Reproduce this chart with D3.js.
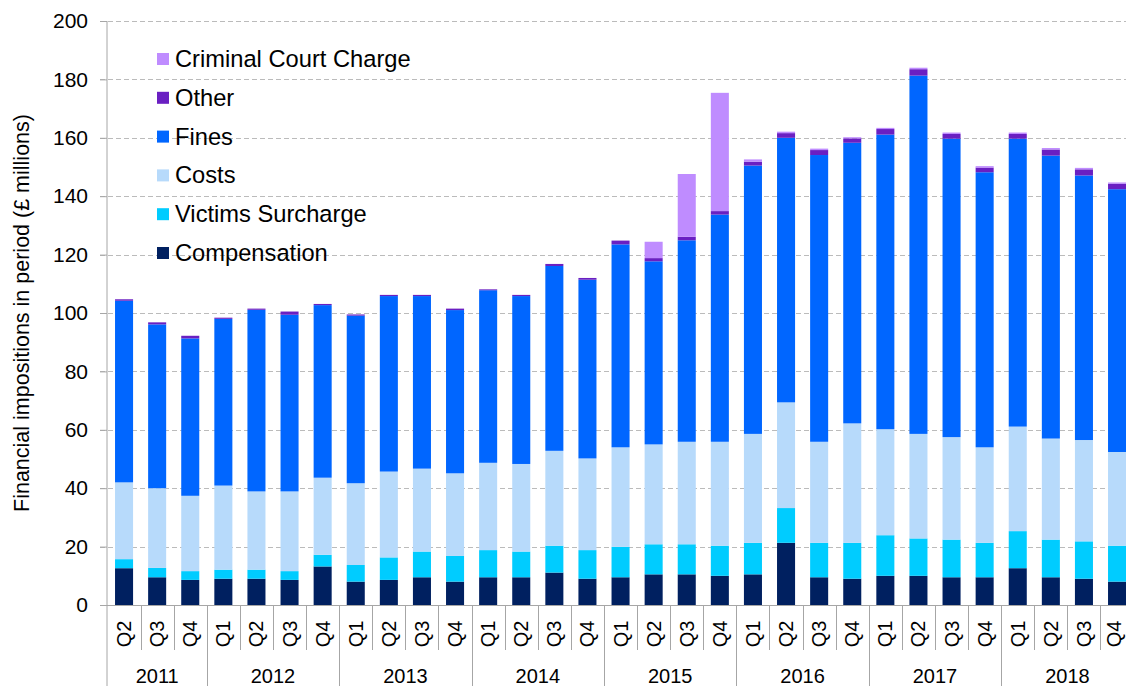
<!DOCTYPE html>
<html>
<head>
<meta charset="utf-8">
<script src="https://cdn.jsdelivr.net/npm/d3@7"></script>
<style>
  html, body { margin: 0; padding: 0; background: #fff; }
  svg { display: block; font-family: "Liberation Sans", Arial, sans-serif; }
</style>
</head>
<body>
<svg id="chart" width="1126" height="686"></svg>
<script>
const years = ["2011","2012","2013","2014","2015","2016","2017","2018"];
const quarters = ["Q2","Q3","Q4",
  "Q1","Q2","Q3","Q4","Q1","Q2","Q3","Q4","Q1","Q2","Q3","Q4",
  "Q1","Q2","Q3","Q4","Q1","Q2","Q3","Q4","Q1","Q2","Q3","Q4",
  "Q1","Q2","Q3","Q4"];
const quarterYears = ["2011","2011","2011",
  "2012","2012","2012","2012","2013","2013","2013","2013","2014","2014","2014","2014",
  "2015","2015","2015","2015","2016","2016","2016","2016","2017","2017","2017","2017",
  "2018","2018","2018","2018"];

const compensation = [12.6,9.5,8.6,9.0,9.0,8.6,13.2,8.0,8.6,9.5,8.0,9.5,9.5,11.1,9.0,
  9.5,10.5,10.5,10.0,10.5,21.3,9.5,9.0,10.0,10.0,9.5,9.5,12.6,9.5,9.0,8.0];
const victimsSurcharge = [3.1,3.2,3.0,3.1,3.1,3.0,4.0,5.7,7.7,8.8,8.8,9.3,8.8,9.2,9.8,
  10.4,10.3,10.3,10.3,10.8,11.9,11.8,12.3,13.9,12.8,12.9,11.8,12.7,12.9,12.8,12.3];
const costs = [26.3,27.3,25.8,28.8,26.8,27.3,26.4,28.0,29.4,28.4,28.3,29.9,30.0,32.5,31.4,
  34.1,34.2,35.1,35.6,37.3,36.2,34.6,40.9,36.3,35.8,35.1,32.7,35.8,34.6,34.7,32.1];
const fines = [62.2,56.1,53.9,57.1,62.2,60.5,59.1,57.4,60.1,59.1,55.9,59.1,57.5,63.3,61.2,
  69.5,62.7,69.0,77.8,91.9,90.6,98.2,96.1,100.9,122.7,102.2,94.2,98.6,96.9,90.6,90.0];
const other = [0.5,0.7,0.9,0.4,0.4,1.1,0.4,0.4,0.4,0.4,0.5,0.3,0.4,0.7,0.6,
  1.3,1.1,1.2,1.2,1.3,1.6,1.7,1.5,1.9,2.2,1.6,1.6,1.6,2.1,2.1,1.9];
const criminalCourtCharge = [0,0,0,0,0,0,0,0,0,0,0,0,0,0,0,
  0,5.6,21.5,40.5,0.8,0.5,0.5,0.4,0.4,0.5,0.5,0.5,0.5,0.5,0.5,0.4];

const seriesNames = ["Compensation","Victims Surcharge","Costs","Fines","Other","Criminal Court Charge"];
const seriesColors = ["#002060","#00CCFF","#B7DAFB","#0066FF","#6A1FC2","#BF8CFF"];
const yTicks = [0,20,40,60,80,100,120,140,160,180,200];

const seriesValues = [compensation, victimsSurcharge, costs, fines, other, criminalCourtCharge];
const rows = quarters.map((q, i) => {
  const r = { idx: i };
  seriesNames.forEach((s, k) => r[s] = seriesValues[k][i]);
  return r;
});

const svg = d3.select("#chart");
const plotLeft = 107.5, plotRight = 1133.6, plotTop = 21, plotBottom = 605;

const x = d3.scaleBand().domain(d3.range(quarters.length)).range([plotLeft, plotRight])
  .paddingInner(0.455).paddingOuter(0.2275);
const xs = d3.scaleBand().domain(d3.range(quarters.length)).range([plotLeft, plotRight]).padding(0);
const y = d3.scaleLinear().domain([0, 200]).range([plotBottom, plotTop]);

// gridlines
svg.append("g").selectAll("line").data(yTicks.filter(d => d > 0)).join("line")
  .attr("x1", 100).attr("x2", 1126)
  .attr("y1", d => Math.round(y(d)) + 0.5).attr("y2", d => Math.round(y(d)) + 0.5)
  .attr("stroke", "#BBBBBB").attr("stroke-width", 1).attr("stroke-dasharray", "5,3");

// bars
const stack = d3.stack().keys(seriesNames)(rows);
svg.append("g").selectAll("g").data(stack).join("g")
  .attr("fill", (d, i) => seriesColors[i])
  .selectAll("rect").data(d => d).join("rect")
  .attr("x", d => x(d.data.idx))
  .attr("width", x.bandwidth())
  .attr("y", d => y(d[1]))
  .attr("height", d => Math.max(0, y(d[0]) - y(d[1])));

// y axis
const yAxis = d3.axisLeft(y).tickValues(yTicks).tickSize(7).tickPadding(12);
const gy = svg.append("g").attr("transform", `translate(${plotLeft - 0.5},0)`).call(yAxis);
gy.select(".domain").attr("stroke", "#A6A6A6").attr("d", `M0,${plotTop}V${plotBottom}`);
gy.selectAll(".tick line").attr("stroke", "#A6A6A6");
gy.selectAll(".tick text").attr("font-size", 21).attr("fill", "#000")
  .attr("font-family", "'Liberation Sans', Arial, sans-serif");

// x axis baseline
svg.append("line").attr("x1", 100).attr("x2", 1126).attr("y1", plotBottom + 0.5).attr("y2", plotBottom + 0.5)
  .attr("stroke", "#A6A6A6");

// quarter separators
const sepIdx = d3.range(1, quarters.length);
svg.append("g").selectAll("line").data(sepIdx).join("line")
  .attr("x1", d => Math.round(xs(d)) + 0.5).attr("x2", d => Math.round(xs(d)) + 0.5)
  .attr("y1", plotBottom)
  .attr("y2", d => quarterYears[d] !== quarterYears[d - 1] ? 686 : 650)
  .attr("stroke", "#A6A6A6");
svg.append("line").attr("x1", plotLeft - 0.5).attr("x2", plotLeft - 0.5).attr("y1", plotBottom).attr("y2", 686)
  .attr("stroke", "#A6A6A6");

// quarter labels
svg.append("g").selectAll("text").data(quarters).join("text")
  .attr("transform", (d, i) => `translate(${Math.min(xs(i) + xs.bandwidth() / 2 + 7, 1121)},634) rotate(-90)`)
  .attr("text-anchor", "middle")
  .attr("font-size", 20).attr("fill", "#000")
  .text(d => d);

// year labels
svg.append("g").selectAll("text").data(years).join("text")
  .attr("x", yr => {
    const idxs = d3.range(quarters.length).filter(i => quarterYears[i] === yr);
    return (xs(idxs[0]) + xs(idxs[idxs.length - 1]) + xs.bandwidth()) / 2;
  })
  .attr("y", 683)
  .attr("text-anchor", "middle").attr("font-size", 20).attr("fill", "#000")
  .text(d => d);

// y axis title
svg.append("text")
  .attr("transform", "translate(29,313) rotate(-90)")
  .attr("text-anchor", "middle").attr("font-size", 21.5).attr("fill", "#000")
  .text("Financial impositions in period (£ millions)");

// legend (top entry first)
const legendOrder = seriesNames.slice().reverse();
const legendColors = seriesColors.slice().reverse();
const lg = svg.append("g");
legendOrder.forEach((name, i) => {
  const cy = 59 + i * 38.8;
  lg.append("rect").attr("x", 157).attr("y", cy - 6).attr("width", 12).attr("height", 12)
    .attr("fill", legendColors[i]);
  lg.append("text").attr("x", 175).attr("y", cy + 8).attr("font-size", 23.7).attr("fill", "#000")
    .text(name);
});
</script>
</body>
</html>
